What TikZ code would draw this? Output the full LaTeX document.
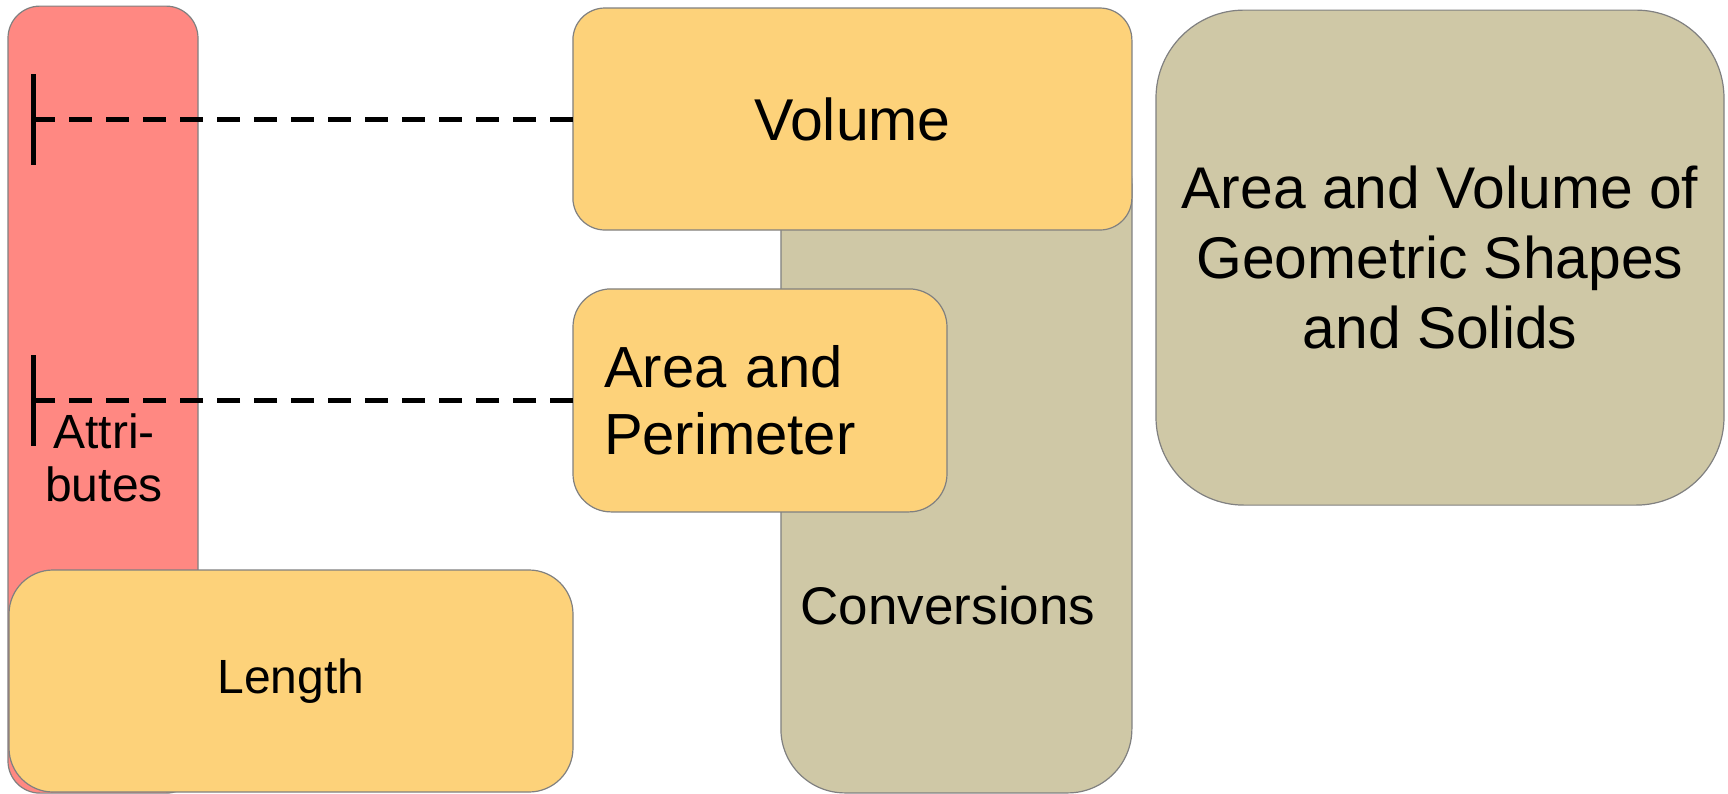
\documentclass[tikz,border=0pt]{standalone}
\usepackage{fontspec}
\setmainfont{Liberation Sans}
\usetikzlibrary{arrows.meta}
\definecolor{AttrRed}{RGB}{255,136,130}
\definecolor{TopicGold}{RGB}{253,210,122}
\definecolor{ShapeTan}{RGB}{207,200,166}
\definecolor{EdgeGray}{RGB}{128,128,128}
\tikzset{
  box/.style={draw=EdgeGray,line width=.3pt,inner sep=0pt,outer sep=0pt,align=center},
  topic/.style={box,fill=TopicGold,minimum height=55.5pt},
  link/.style={draw=black,line width=1.25pt,dash pattern=on 5.75pt off 3.5pt,-{Bar[width=22.75pt]}},
}

\begin{document}
\begin{tikzpicture}[x=1pt,y=-1pt]
\useasboundingbox (0,0) rectangle (432,198.5);
% background columns
\node[box,fill=AttrRed,rounded corners=8pt,minimum width=47.5pt,minimum height=196.75pt] (attr) at (25.75,99.9) {};
\node[box,fill=ShapeTan,rounded corners=16pt,minimum width=87.75pt,minimum height=168.25pt] (conv) at (239.1,114.1) {};
\node[font=\fontsize{12}{13.25}\selectfont,align=center] (attrtext) at (26,114.5) {Attri-\\butes};
\node[font=\fontsize{13.25}{15}\selectfont] (convtext) at (237,151.5) {Conversions};
% topics
\node[topic,rounded corners=8pt,minimum width=139.75pt,font=\fontsize{14.75}{17}\selectfont] (vol) at (213.1,29.75) {Volume};
\node[topic,rounded corners=9.5pt,minimum width=93.5pt,minimum height=55.75pt,text width=78pt,inner xsep=7.75pt,align=left,
  font=\fontsize{14.5}{16.75}\selectfont] (area) at (190,100.1) {Area and\\Perimeter};
\node[topic,rounded corners=11pt,minimum width=141pt,font=\fontsize{12}{14}\selectfont] (len) at (72.75,170.25) {Length};
\node[box,fill=ShapeTan,rounded corners=22pt,minimum width=142pt,minimum height=123.75pt,
  font=\fontsize{14.7}{17.5}\selectfont] (geo) at (360,64.4) {Area and Volume of\\Geometric Shapes\\and Solids};
% ticks on the attributes column
\coordinate (tickA) at (7.75,29.75);
\coordinate (tickB) at (7.75,100.1);
\foreach \n/\t in {vol/tickA,area/tickB} \draw[link] (\n.west) -- (\t);
\end{tikzpicture}
\end{document}
